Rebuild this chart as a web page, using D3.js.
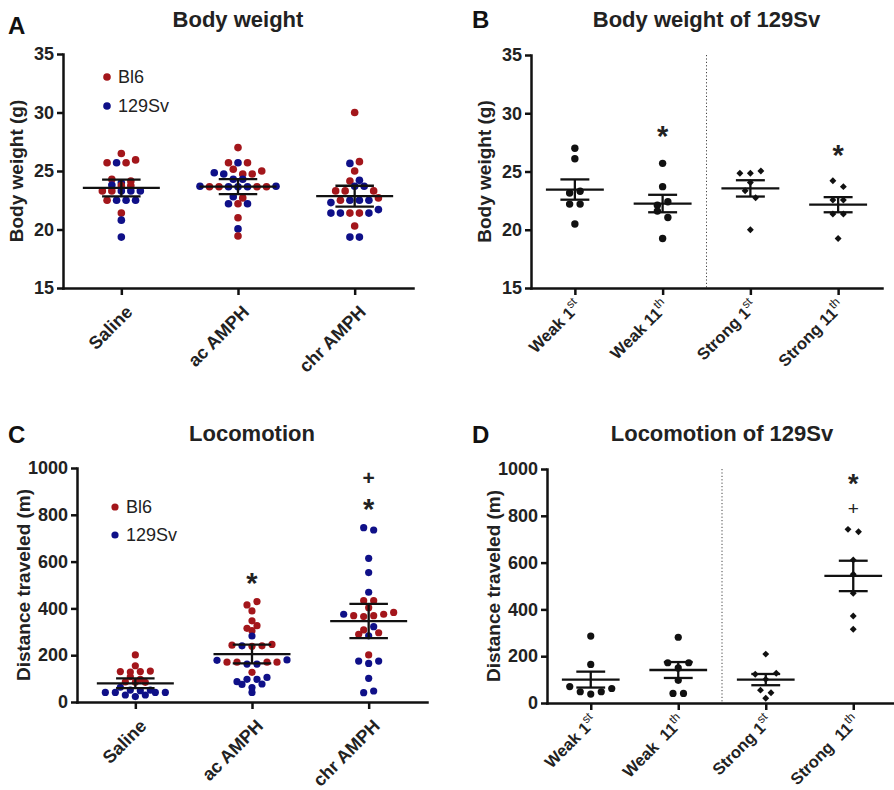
<!DOCTYPE html>
<html><head><meta charset="utf-8">
<script src="https://cdn.jsdelivr.net/npm/d3@7"></script>
<style>
body{margin:0;background:#fff;}
svg{display:block;font-family:"Liberation Sans",Arial,sans-serif;}
</style></head><body>
<svg id="c" width="894" height="790"></svg>
<script>
// ---------- DATA ----------
const treatments = ["Saline", "ac AMPH", "chr AMPH"];
const stages = ["Weak 1st", "Weak 11th", "Strong 1st", "Strong 11th"];
const stageLabelsB = [["Weak 1", "st"], ["Weak 11", "th"], ["Strong 1", "st"], ["Strong 11", "th"]];
const stageLabelsD = [["Weak 1", "st"], ["Weak  11", "th"], ["Strong 1", "st"], ["Strong  11", "th"]];
const strainNames = ["Bl6", "129Sv"];   // codes "B" and "S"
const weightTicks = [15, 20, 25, 30, 35];
const distanceTicks = [0, 200, 400, 600, 800, 1000];

// Panel A: body weight (g); values listed left-to-right within each row
const weightSaline = [26.5, 25.7, 25.7, 25.7, 25.95, 24.3, 24.0, 24.15, 23.8, 23.75, 23.75, 23.3, 23.3, 23.3, 23.3, 23.3, 22.5, 22.5, 22.5, 22.5, 21.4, 20.8, 19.35];
const weightSalineStrain = ["B","B","S","B","B","B","S","B","S","B","B","B","B","S","S","S","B","S","S","S","B","S","S"];
const weightAc = [27.0, 25.7, 25.7, 25.7, 24.85, 24.75, 25.15, 24.75, 24.75, 25.0, 24.3, 24.3, 23.7, 23.65, 23.65, 23.65, 23.65, 23.65, 23.65, 23.65, 23.7, 22.8, 22.7, 22.2, 22.2, 22.2, 21.0, 20.05, 19.45];
const weightAcStrain = ["B","B","S","B","S","S","B","B","B","B","S","S","S","B","B","S","S","S","B","B","S","S","B","S","B","S","B","S","B"];
const weightChr = [30.0, 25.65, 25.8, 25.0, 24.15, 24.2, 23.3, 23.3, 23.7, 23.7, 23.3, 22.3, 22.5, 22.5, 22.5, 22.5, 22.7, 21.4, 21.4, 21.4, 21.4, 21.4, 21.7, 20.3, 19.35, 19.35];
const weightChrStrain = ["B","S","B","B","B","S","B","B","S","S","B","S","B","S","S","S","B","S","S","B","B","S","S","B","S","S"];
const weightMeans = [23.55, 23.66, 22.85];
const weightErrs = [0.72, 0.64, 0.89];

// Panel B: body weight of 129Sv (g)
const weightWeak1 = [27.0, 26.1, 23.15, 23.3, 22.2, 22.2, 20.5];
const weightWeak11 = [25.7, 23.7, 22.1, 22.4, 21.6, 21.05, 19.25];
const weightStrong1 = [24.85, 24.85, 25.05, 24.05, 23.35, 22.75, 20.0];
const weightStrong11 = [24.2, 23.7, 22.55, 22.55, 21.35, 21.35, 19.25];
const weight129Means = [23.45, 22.25, 23.55, 22.15];
const weight129Errs = [0.87, 0.75, 0.70, 0.65];
const weight129Marks = [["Weak 11th", "*", 28.56], ["Strong 11th", "*", 26.93]];

// Panel C: locomotion (m)
const distSaline = [201, 155, 130, 128, 130, 132, 108, 97, 86, 84, 84, 63, 51, 41, 41, 30, 23, 30, 41, 41, 48, 51];
const distSalineStrain = ["B","B","B","B","B","B","B","B","B","B","B","S","S","S","S","S","S","S","S","S","S","S"];
const distAc = [415, 429, 389, 347, 315, 326, 305, 282, 243, 240, 238, 240, 246, 178, 170, 170, 162, 162, 170, 170, 180, 127, 87, 97, 97, 105, 75, 62, 77, 41];
const distAcStrain = ["B","B","B","B","B","B","B","S","B","S","B","B","B","S","B","B","S","S","B","B","S","B","S","S","S","S","S","S","S","S"];
const distChr = [745, 735, 614, 553, 469, 433, 433, 403, 375, 369, 365, 369, 375, 383, 308, 322, 289, 283, 296, 201, 175, 165, 175, 101, 40, 47];
const distChrStrain = ["S","S","S","S","S","B","B","B","S","B","B","B","B","B","B","S","B","S","B","B","S","S","S","S","S","S"];
const distanceMeans = [80, 205, 346];
const distanceErrs = [21, 40, 73];
const distanceMarks = [["ac AMPH", "*", 535], ["chr AMPH", "*", 849], ["chr AMPH", "+", 956]];

// Panel D: locomotion of 129Sv (m)
const distWeak1 = [286, 165, 70, 48, 38, 48, 62];
const distWeak11 = [281, 172, 150, 172, 97, 41, 41];
const distStrong1 = [209, 123, 101, 127, 55, 44, 20];
const distStrong11 = [742, 732, 611, 550, 469, 372, 315];
const distance129Means = [100, 141, 100, 543];
const distance129Errs = [34, 34, 24, 65];
const distance129Marks = [["Strong 11th", "*", 962], ["Strong 11th", "+", 832]];

// ---------- STYLE ----------
const strainColor = { B: "#a3161b", S: "#0f1088" };
const ink = "#111", textInk = "#222";
const svg = d3.select("#c");

// row-based dot layout (GraphPad-like): values close together share a row
function rowLayout(values, thresh, spacing) {
  const idx = values.map((v, i) => i).sort((a, b) => values[b] - values[a] || a - b);
  const rows = []; let cur = null;
  idx.forEach(i => {
    if (cur && values[cur.anchor] - values[i] < thresh) cur.members.push(i);
    else { cur = { anchor: i, members: [i] }; rows.push(cur); }
  });
  const off = new Array(values.length);
  rows.forEach(r => {
    r.members.sort((a, b) => a - b);
    const n = r.members.length;
    r.members.forEach((m, k) => off[m] = (k - (n - 1) / 2) * spacing);
  });
  return off;
}

function styleAxis(ax) {
  ax.attr("font-family", null).attr("font-size", null);
  ax.select(".domain").attr("stroke", ink).attr("stroke-width", 2.5).attr("stroke-linecap", "square");
  ax.selectAll(".tick line").attr("stroke", ink).attr("stroke-width", 2.5);
  ax.selectAll(".tick text").attr("fill", textInk).attr("font-size", 18).attr("font-weight", "bold");
}

function drawPanel(p) {
  const g = svg.append("g");
  const y = d3.scaleLinear().domain(p.yDomain).range([p.yBot, p.yTop]);
  const x = d3.scalePoint().domain(p.cats).range([p.x0, p.x1]).padding(0.5);
  const step = x.step();

  if (p.divider) {
    const xm = (x(p.cats[1]) + x(p.cats[2])) / 2;
    g.append("line").attr("x1", xm).attr("x2", xm).attr("y1", y(p.yDomain[1])).attr("y2", y(p.yDomain[0]))
      .attr("stroke", "#444").attr("stroke-width", 1).attr("stroke-dasharray", "1.2,2.2");
  }

  // dots
  p.groups.forEach((grp, gi) => {
    const cx = x(p.cats[gi]);
    const off = rowLayout(grp.values, p.thresh, p.spacing);
    const pts = grp.values.map((v, i) => ({ v, dx: off[i], s: grp.strains ? grp.strains[i] : null }));
    if (grp.shape === "diamond") {
      g.append("g").selectAll("path").data(pts).join("path")
        .attr("d", d3.symbol(d3.symbolSquare, 24)())
        .attr("transform", d => `translate(${cx + d.dx},${y(d.v)}) rotate(45)`)
        .attr("fill", ink);
    } else {
      g.append("g").selectAll("circle").data(pts).join("circle")
        .attr("cx", d => cx + d.dx).attr("cy", d => y(d.v)).attr("r", p.r)
        .attr("fill", d => d.s ? strainColor[d.s] : ink);
    }
  });

  // mean and error bars
  const mg = g.append("g").attr("stroke", ink).attr("stroke-width", 2.3);
  p.cats.forEach((c, i) => {
    const cx = x(c), m = p.means[i], e = p.errs[i];
    const hw = step * 0.33, cw = step * 0.165;
    mg.append("line").attr("x1", cx - hw).attr("x2", cx + hw).attr("y1", y(m)).attr("y2", y(m));
    mg.append("line").attr("x1", cx).attr("x2", cx).attr("y1", y(m + e)).attr("y2", y(m - e));
    mg.append("line").attr("x1", cx - cw).attr("x2", cx + cw).attr("y1", y(m + e)).attr("y2", y(m + e));
    mg.append("line").attr("x1", cx - cw).attr("x2", cx + cw).attr("y1", y(m - e)).attr("y2", y(m - e));
  });

  // significance marks
  if (p.marks) {
    g.append("g").selectAll("text").data(p.marks).join("text")
      .attr("x", d => x(d[0])).attr("y", d => y(d[2]))
      .attr("text-anchor", "middle")
      .attr("dy", d => d[1] === "*" ? "0.55em" : "0.34em")
      .attr("font-size", d => d[1] === "*" ? (p.plusBold ? 29 : 27) : (p.plusBold ? 21 : 19))
      .attr("font-weight", d => d[1] === "*" ? "bold" : (p.plusBold ? "bold" : "normal"))
      .attr("fill", textInk).text(d => d[1]);
  }

  // axes
  const ay = g.append("g").attr("transform", `translate(${p.x0},0)`)
    .call(d3.axisLeft(y).tickValues(p.ticks).tickSize(6).tickSizeOuter(0).tickPadding(3).tickFormat(d3.format("d")));
  styleAxis(ay);
  const ax = g.append("g").attr("transform", `translate(0,${p.yBot})`)
    .call(d3.axisBottom(x).tickSize(7).tickSizeOuter(0).tickFormat(""));
  styleAxis(ax);

  const hasSup = Array.isArray(p.xLabels[0]);
  const lx = hasSup ? -1 : 3, ly = hasSup ? 11 : 16;
  const xl = g.append("g").selectAll("text").data(p.cats).join("text")
    .attr("transform", d => `translate(${x(d) + lx},${p.yBot + ly}) rotate(-45)`)
    .attr("text-anchor", "end").attr("dy", "0.72em")
    .attr("font-size", hasSup ? 16.5 : 18).attr("font-weight", "bold").attr("fill", textInk)
    .style("white-space", "pre");
  xl.each(function (d, i) {
    const lab = p.xLabels[i], t = d3.select(this);
    if (Array.isArray(lab)) {
      t.append("tspan").text(lab[0]);
      t.append("tspan").attr("dy", -7).attr("font-size", 12).attr("font-weight", "normal").text(lab[1]);
    } else t.text(lab);
  });

  // titles
  g.append("text").attr("x", (p.x0 + p.x1) / 2).attr("y", p.titleY).attr("text-anchor", "middle")
    .attr("font-size", 22).attr("font-weight", "bold").attr("fill", textInk).text(p.title);
  g.append("text").attr("x", p.letterX).attr("y", p.letterY)
    .attr("font-size", 24).attr("font-weight", "bold").attr("fill", "#111").text(p.letter);
  g.append("text").attr("transform", `translate(${p.yTitleX},${(p.yTop + p.yBot) / 2}) rotate(-90)`)
    .attr("text-anchor", "middle").attr("font-size", 19).attr("font-weight", "bold").attr("fill", textInk)
    .text(p.yTitle);

  // legend
  if (p.legend) {
    const lg = g.append("g");
    ["B", "S"].forEach((code, i) => {
      lg.append("circle").attr("cx", p.legend.x).attr("cy", p.legend.y + i * p.legend.dy).attr("r", p.r)
        .attr("fill", strainColor[code]);
      lg.append("text").attr("x", p.legend.x + 11).attr("y", p.legend.y + i * p.legend.dy + 6)
        .attr("font-size", 18).attr("fill", textInk).text(strainNames[i]);
    });
  }
}

drawPanel({
  x0: 63, x1: 413, yTop: 54, yBot: 288, yDomain: [15, 35], ticks: weightTicks,
  cats: treatments, xLabels: treatments,
  groups: [
    { values: weightSaline, strains: weightSalineStrain },
    { values: weightAc, strains: weightAcStrain },
    { values: weightChr, strains: weightChrStrain }
  ],
  means: weightMeans, errs: weightErrs, thresh: 0.43, spacing: 9.5, r: 3.8,
  title: "Body weight", titleY: 27, letter: "A", letterX: 8, letterY: 34,
  yTitle: "Body weight (g)", yTitleX: 23, legend: { x: 107, y: 77, dy: 29 }
});

drawPanel({
  x0: 531, x1: 882, yTop: 55, yBot: 288, yDomain: [15, 35], ticks: weightTicks,
  cats: stages, xLabels: stageLabelsB,
  groups: [
    { values: weightWeak1 }, { values: weightWeak11 },
    { values: weightStrong1, shape: "diamond" }, { values: weightStrong11, shape: "diamond" }
  ],
  means: weight129Means, errs: weight129Errs, thresh: 0.64, spacing: 10.5, r: 3.7,
  title: "Body weight of 129Sv", titleY: 27, letter: "B", letterX: 472, letterY: 28,
  yTitle: "Body weight (g)", yTitleX: 491, divider: true, marks: weight129Marks, plusBold: true
});

drawPanel({
  x0: 77, x1: 427, yTop: 468, yBot: 702, yDomain: [0, 1000], ticks: distanceTicks,
  cats: treatments, xLabels: treatments,
  groups: [
    { values: distSaline, strains: distSalineStrain },
    { values: distAc, strains: distAcStrain },
    { values: distChr, strains: distChrStrain }
  ],
  means: distanceMeans, errs: distanceErrs, thresh: 20, spacing: 10, r: 3.6,
  title: "Locomotion", titleY: 441, letter: "C", letterX: 8, letterY: 443,
  yTitle: "Distance traveled (m)", yTitleX: 30, legend: { x: 115, y: 507, dy: 28 },
  marks: distanceMarks, plusBold: true
});

drawPanel({
  x0: 547, x1: 897, yTop: 469, yBot: 703, yDomain: [0, 1000], ticks: distanceTicks,
  cats: stages, xLabels: stageLabelsD,
  groups: [
    { values: distWeak1 }, { values: distWeak11 },
    { values: distStrong1, shape: "diamond" }, { values: distStrong11, shape: "diamond" }
  ],
  means: distance129Means, errs: distance129Errs, thresh: 35, spacing: 10.5, r: 3.6,
  title: "Locomotion of 129Sv", titleY: 441, letter: "D", letterX: 472, letterY: 443,
  yTitle: "Distance traveled (m)", yTitleX: 500, divider: true, marks: distance129Marks
});
</script>
</body></html>
